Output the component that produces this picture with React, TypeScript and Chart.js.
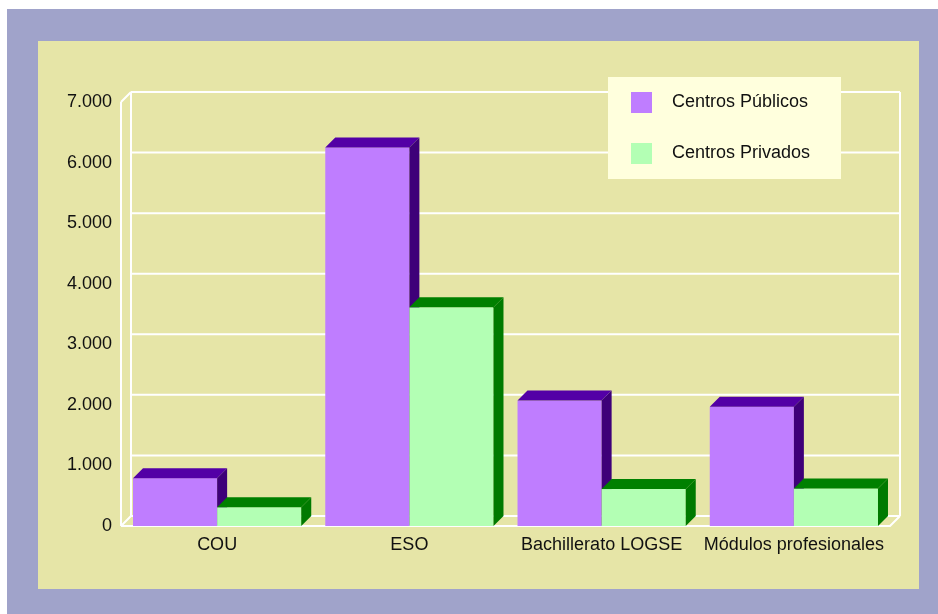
import React, { useEffect, useRef } from "react";
import { Chart, registerables } from "chart.js";

Chart.register(...registerables);

const categories = ["COU", "ESO", "Bachillerato LOGSE", "Módulos profesionales"];
const seriesNames = ["Centros Públicos", "Centros Privados"];
const publicos = [790, 6250, 2070, 1970];
const privados = [310, 3610, 610, 620];
const yMax = 7000;
const yStep = 1000;

const FRONT = ["#BF7DFF", "#B3FFB4"];
const TOP = ["#5300A6", "#008000"];
const SIDE = ["#3E0079", "#007A00"];
const DEPTH = 10;
const FONT = "'Liberation Sans', Arial, sans-serif";

function fmt(v: number) {
  return String(v).replace(/\B(?=(\d{3})+(?!\d))/g, ".");
}

const threeD = {
  id: "threeD",
  beforeDatasetsDraw(chart: any) {
    const { ctx, chartArea } = chart;
    const ys = chart.scales.y;
    const { left, right, top, bottom } = chartArea;
    const d = DEPTH;
    ctx.save();
    ctx.strokeStyle = "#FFFFFF";
    ctx.lineWidth = 2;
    ctx.beginPath();
    for (let v = 0; v <= yMax; v += yStep) {
      const py = ys.getPixelForValue(v) - d;
      ctx.moveTo(left + d, py);
      ctx.lineTo(right + d, py);
    }
    // back wall verticals
    ctx.moveTo(left + d, top - d);
    ctx.lineTo(left + d, bottom - d);
    ctx.moveTo(right + d, top - d);
    ctx.lineTo(right + d, bottom - d);
    // left wall front edge
    ctx.moveTo(left, top);
    ctx.lineTo(left, bottom);
    ctx.moveTo(left, top);
    ctx.lineTo(left + d, top - d);
    ctx.moveTo(left, bottom);
    ctx.lineTo(left + d, bottom - d);
    // floor
    ctx.moveTo(left, bottom);
    ctx.lineTo(right, bottom);
    ctx.lineTo(right + d, bottom - d);
    ctx.stroke();
    ctx.restore();
  },
  afterDatasetsDraw(chart: any) {
    const { ctx } = chart;
    const d = DEPTH;
    const metas = [chart.getDatasetMeta(0), chart.getDatasetMeta(1)];
    ctx.save();
    for (let i = 0; i < categories.length; i++) {
      for (let s = 0; s < metas.length; s++) {
        const el = metas[s].data[i];
        const { x, y, base, width } = el.getProps(["x", "y", "base", "width"], true);
        const l = x - width / 2;
        const r = x + width / 2;
        ctx.fillStyle = FRONT[s];
        ctx.fillRect(l, y, r - l, base - y);
        ctx.fillStyle = TOP[s];
        ctx.beginPath();
        ctx.moveTo(l, y);
        ctx.lineTo(l + d, y - d);
        ctx.lineTo(r + d, y - d);
        ctx.lineTo(r, y);
        ctx.closePath();
        ctx.fill();
        ctx.fillStyle = SIDE[s];
        ctx.beginPath();
        ctx.moveTo(r, y);
        ctx.lineTo(r + d, y - d);
        ctx.lineTo(r + d, base - d);
        ctx.lineTo(r, base);
        ctx.closePath();
        ctx.fill();
      }
    }
    ctx.restore();
  },
  afterDraw(chart: any) {
    const { ctx, chartArea } = chart;
    const bx = chartArea.right - 282;
    const by = chartArea.top - 25;
    ctx.save();
    ctx.fillStyle = "#FFFFDD";
    ctx.fillRect(bx, by, 233, 102);
    ctx.font = `18px ${FONT}`;
    ctx.textBaseline = "middle";
    ctx.textAlign = "left";
    for (let s = 0; s < seriesNames.length; s++) {
      const sy = by + 15 + s * 51;
      ctx.fillStyle = FRONT[s];
      ctx.fillRect(bx + 23, sy, 21, 21);
      ctx.fillStyle = "#111111";
      ctx.fillText(seriesNames[s], bx + 64, sy + 10);
    }
    ctx.restore();
  },
};

export default function App() {
  const ref = useRef<HTMLCanvasElement | null>(null);
  useEffect(() => {
    document.body.style.margin = "0";
    if (!ref.current) return;
    const chart = new Chart(ref.current, {
      type: "bar",
      data: {
        labels: categories,
        datasets: [
          { label: seriesNames[0], data: publicos, backgroundColor: "rgba(0,0,0,0)" },
          { label: seriesNames[1], data: privados, backgroundColor: "rgba(0,0,0,0)" },
        ],
      },
      options: {
        animation: false,
        responsive: false,
        events: [],
        layout: { padding: { left: 3, right: 29, top: 61, bottom: 23 } },
        plugins: { legend: { display: false }, tooltip: { enabled: false } },
        datasets: { bar: { categoryPercentage: 0.875, barPercentage: 1 } },
        scales: {
          x: {
            grid: { display: false, drawTicks: false },
            border: { display: false },
            ticks: { color: "#111111", font: { family: FONT, size: 18 }, padding: 8, maxRotation: 0, autoSkip: false },
            afterFit: (s: any) => { s.height = 40; },
          },
          y: {
            min: 0,
            max: yMax,
            grid: { display: false, drawTicks: false },
            border: { display: false },
            ticks: {
              stepSize: yStep,
              color: "#111111",
              font: { family: FONT, size: 18 },
              padding: 9,
              callback: (v: any) => fmt(Number(v)),
            },
            afterFit: (s: any) => { s.width = 80; },
          },
        },
      },
      plugins: [threeD],
    });
    return () => chart.destroy();
  }, []);
  return (
    <div style={{ position: "absolute", left: 7, top: 9, width: 931, height: 605, background: "#A0A3CA" }}>
      <div style={{ position: "absolute", left: 31, top: 32, width: 881, height: 548, background: "#E6E5A7" }}>
        <canvas ref={ref} width={881} height={548} style={{ display: "block", width: 881, height: 548 }} />
      </div>
    </div>
  );
}
